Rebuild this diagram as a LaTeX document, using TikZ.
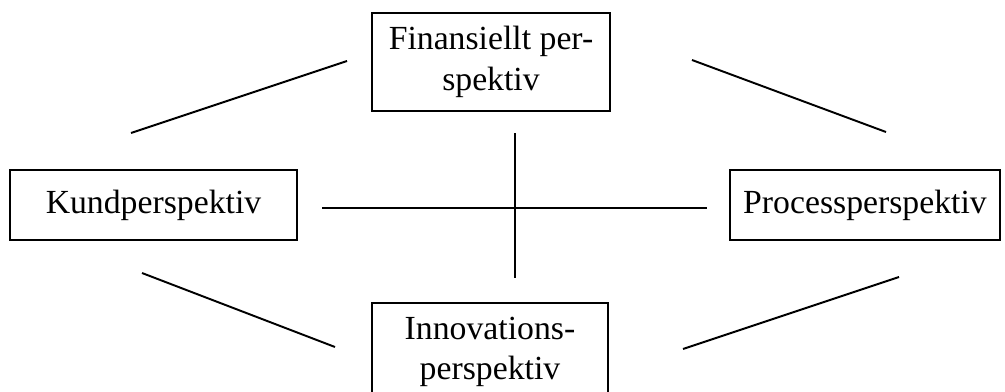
\documentclass[tikz,border=0pt]{standalone}
\usepackage{fontspec}
\setmainfont{Liberation Serif}
\usepackage{tikz}
\usetikzlibrary{positioning}

\begin{document}
\begin{tikzpicture}[x=0.02cm, y=-0.02cm, line width=1.1pt,
    persp/.style={draw=black, align=center, inner sep=0pt,
                  font=\fontsize{19.2}{23}\selectfont},
    link/.style={black, line width=1.1pt}]
  \useasboundingbox (0,0) rectangle (1005,392);
  % the four boxes
  \node[persp, minimum width=4.76cm, minimum height=1.96cm]
        (fin) at (491,62) {Finansiellt per-\\spektiv};
  \node[persp, minimum width=5.74cm, minimum height=1.4cm]
        (kund) at (153.5,205) {Kundperspektiv};
  \node[persp, minimum width=5.4cm, minimum height=1.4cm]
        (proc) at (865,205) {Processperspektiv};
  \node[persp, minimum width=4.72cm, minimum height=1.96cm]
        (inno) at (490,352) {Innovations-\\perspektiv};
  % free line ends
  \coordinate (tl-a) at (131,133);  \coordinate (tl-b) at (347,61);
  \coordinate (tr-a) at (692,60);   \coordinate (tr-b) at (886,132);
  \coordinate (bl-a) at (142,273);  \coordinate (bl-b) at (335,347);
  \coordinate (br-a) at (683,349);  \coordinate (br-b) at (899,277);
  \coordinate (hz-a) at (322,208);  \coordinate (hz-b) at (707,208);
  \coordinate (vt-a) at (515,133);  \coordinate (vt-b) at (515,278);
  \foreach \p in {tl,tr,bl,br,hz,vt}
    \draw[link] (\p-a) -- (\p-b);
\end{tikzpicture}
\end{document}
